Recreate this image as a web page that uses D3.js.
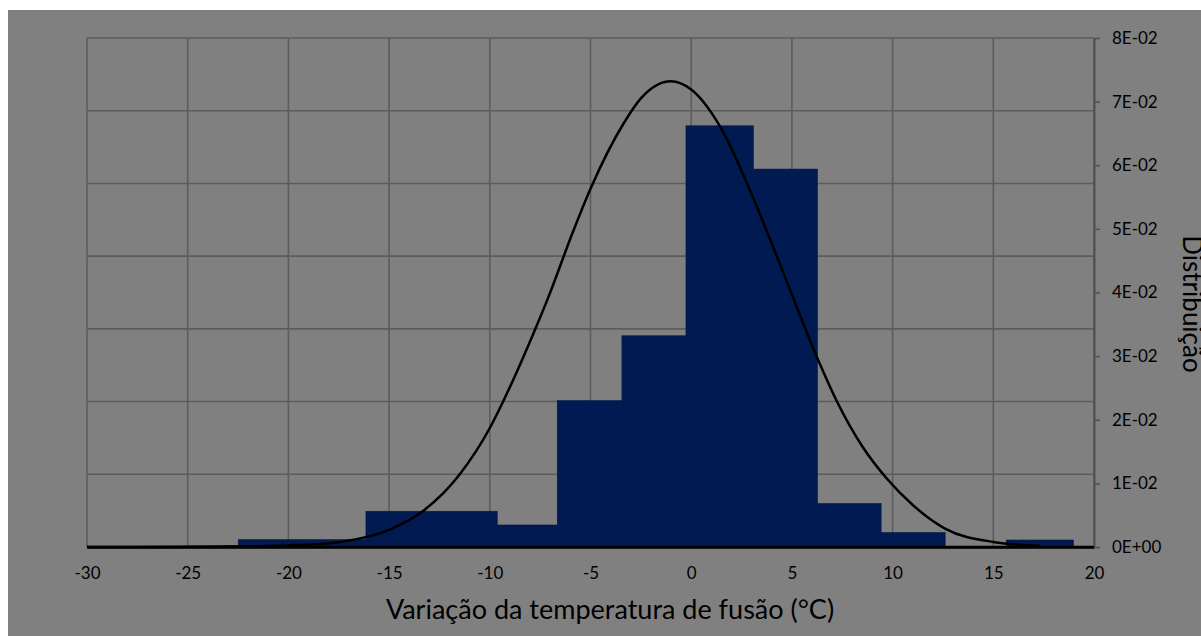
<!DOCTYPE html>
<html>
<head>
<meta charset="utf-8">
<script src="https://cdn.jsdelivr.net/npm/d3@7"></script>
<style>
  body { margin: 0; background: #fff; }
  text { font-family: Lato, "Open Sans", sans-serif; fill: #000; }
</style>
</head>
<body>
<div class="canvas"></div>
<script>
// histogram bins (°C)
const binStart = [-22.49, -16.15, -9.63, -6.65, -3.44, -0.26, 3.09, 6.27, 9.43, 15.64];
const binEnd   = [-16.15, -9.63, -6.65, -3.44, -0.26, 3.09, 6.27, 9.43, 12.61, 18.98];
const binDensity = [0.00116, 0.00562, 0.00346, 0.0230, 0.0332, 0.0662, 0.0594, 0.00683, 0.00227, 0.0011];

// fitted curve, points
const curveX = [-30, -25, -22, -19.5, -17.4, -15, -13.3, -11.5, -10, -9.35, -7.75, -7.15, -5.85, -5, -3.35, -2.5, -1.0, 0, 1.45, 3.1, 4.4, 6.25, 7.25, 8.5, 9.7, 11, 12.6, 15, 17.3];
const curveY = [0, 0.00002, 0.0001, 0.0003, 0.0008, 0.0027, 0.0057, 0.0114, 0.0187, 0.0228, 0.0342, 0.0388, 0.0497, 0.0563, 0.0666, 0.0705, 0.0732, 0.0719, 0.0660, 0.0547, 0.0445, 0.0298, 0.0228, 0.0158, 0.0108, 0.0066, 0.0029, 0.0008, 0.0002];

const xTicks = [-30, -25, -20, -15, -10, -5, 0, 5, 10, 15, 20];
const yTicks = [0, 0.01, 0.02, 0.03, 0.04, 0.05, 0.06, 0.07, 0.08];
const yTickLabels = ['0E+00', '1E-02', '2E-02', '3E-02', '4E-02', '5E-02', '6E-02', '7E-02', '8E-02'];
// hidden primary axis (gives the horizontal gridlines)
const gridLevels = [0, 1, 2, 3, 4, 5, 6, 7];

const W = 1201, H = 636;
const margin = {top: 38, right: 107, bottom: 89, left: 87};
const graphWidth = W - margin.left - margin.right;
const graphHeight = H - margin.top - margin.bottom;

const svg = d3.select('.canvas')
    .append('svg')
    .attr('width', W)
    .attr('height', H);

// grey chart area
svg.append('rect')
    .attr('x', 8).attr('y', 10)
    .attr('width', W - 8).attr('height', H - 10)
    .attr('fill', '#808080');

const graph = svg.append('g')
    .attr('transform', `translate(${margin.left},${margin.top})`);

const x = d3.scaleLinear().domain([-30, 20]).range([0, graphWidth]);
const y = d3.scaleLinear().domain([0, 0.08]).range([graphHeight, 0]);
const yGrid = d3.scaleLinear().domain([0, 7]).range([graphHeight, 0]);

// gridlines
graph.append('g').selectAll('line.v')
    .data(xTicks)
    .enter().append('line')
    .attr('x1', d => x(d)).attr('x2', d => x(d))
    .attr('y1', 0).attr('y2', graphHeight)
    .attr('stroke', '#5c5c5c').attr('stroke-width', 1.6);

graph.append('g').selectAll('line.h')
    .data(gridLevels)
    .enter().append('line')
    .attr('x1', 0).attr('x2', graphWidth)
    .attr('y1', d => yGrid(d)).attr('y2', d => yGrid(d))
    .attr('stroke', '#5c5c5c').attr('stroke-width', 1.6);

// histogram bars
graph.selectAll('rect.bar')
    .data(binDensity)
    .enter().append('rect')
    .attr('class', 'bar')
    .attr('x', (d, i) => x(binStart[i]))
    .attr('width', (d, i) => x(binEnd[i]) - x(binStart[i]))
    .attr('y', d => y(d))
    .attr('height', d => graphHeight - y(d))
    .attr('fill', '#011a51')
    .attr('stroke', '#011a51')
    .attr('stroke-width', 0.6);

// axes
const xAxis = d3.axisBottom(x)
    .tickValues(xTicks)
    .tickSize(0)
    .tickPadding(20)
    .tickFormat(d => d);
const xAxisGroup = graph.append('g')
    .attr('transform', `translate(0, ${graphHeight})`)
    .call(xAxis);
xAxisGroup.select('.domain').attr('stroke', '#000').attr('stroke-width', 2.5);
xAxisGroup.selectAll('text')
    .attr('font-size', '17px')
    .attr('fill', '#000');

const yAxis = d3.axisRight(y)
    .tickValues(yTicks)
    .tickSizeInner(6)
    .tickSizeOuter(0)
    .tickPadding(12)
    .tickFormat((d, i) => yTickLabels[i]);
const yAxisGroup = graph.append('g')
    .attr('transform', `translate(${graphWidth}, 0)`)
    .call(yAxis);
yAxisGroup.select('.domain').attr('stroke', '#505050').attr('stroke-width', 2);
yAxisGroup.selectAll('line').attr('stroke', '#505050').attr('stroke-width', 1.5);
yAxisGroup.selectAll('text')
    .attr('font-size', '17px')
    .attr('fill', '#000');

// redraw bottom axis line over the right axis corner
graph.append('line')
    .attr('x1', 0).attr('x2', graphWidth)
    .attr('y1', graphHeight).attr('y2', graphHeight)
    .attr('stroke', '#000').attr('stroke-width', 2.5);

// fitted curve
const line = d3.line()
    .x((d, i) => x(curveX[i]))
    .y(d => y(d))
    .curve(d3.curveMonotoneX);
graph.append('path')
    .datum(curveY)
    .attr('d', line)
    .attr('fill', 'none')
    .attr('stroke', '#000')
    .attr('stroke-width', 2.5);

// titles
svg.append('text')
    .attr('x', 610)
    .attr('y', 619)
    .attr('text-anchor', 'middle')
    .attr('font-size', '27px')
    .text('Variação da temperatura de fusão (°C)');

svg.append('text')
    .attr('transform', 'translate(1183, 304) rotate(90)')
    .attr('text-anchor', 'middle')
    .attr('font-size', '26px')
    .text('Distribuição');
</script>
</body>
</html>
